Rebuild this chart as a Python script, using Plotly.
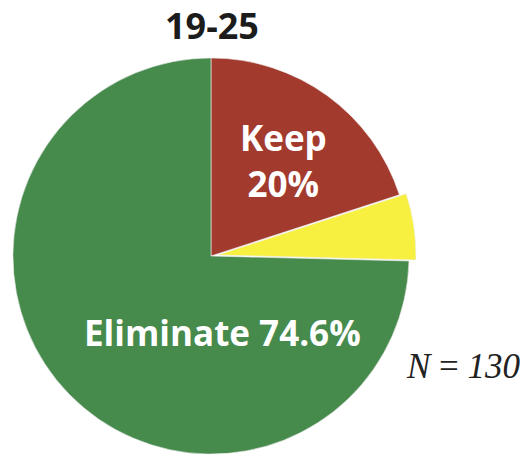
import plotly.graph_objects as go

# share of respondents aged 19-25
labels = ["Keep", "Undecided", "Eliminate"]
values = [20.0, 5.4, 74.6]
colors = ["#a33a2e", "#f8f040", "#468a4c"]
pulls = [0, 0.035, 0]
group_title = "19-25"
sample_size = 130

W, H = 522, 461
cx, cy, half = 211, 256, 205  # pie centre and half-size of its domain, px

fig = go.Figure()
fig.add_trace(
    go.Pie(
        labels=labels,
        values=values,
        sort=False,
        direction="clockwise",
        rotation=0,
        pull=pulls,
        marker=dict(colors=colors, line=dict(color="#eeeeee", width=0.6)),
        textinfo="none",
        hoverinfo="skip",
        domain=dict(
            x=[(cx - half) / W, (cx + half) / W],
            y=[(H - cy - half) / H, (H - cy + half) / H],
        ),
    )
)


def put_text(x, y, text, font, align="center"):
    # x, y given in pixels from the top-left corner
    fig.add_annotation(
        x=x / W, y=1 - y / H, xref="paper", yref="paper",
        xanchor="center", yanchor="middle",
        text=text, showarrow=False, font=font, align=align,
    )


label_font = dict(family="Open Sans, sans-serif", size=35, color="white", weight="bold")

put_text(283, 160, f"{labels[0]}<br>{values[0]:g}%", label_font)
put_text(222, 332, f"{labels[2]} {values[2]:g}%", label_font)
put_text(212, 25, group_title,
         dict(family="Open Sans, sans-serif", size=36, color="#1c1c1c", weight="bold"))
put_text(463, 366, f"<i>N</i> = <i>{sample_size}</i>",
         dict(family="Liberation Serif, serif", size=35, color="#222222"))

fig.update_layout(
    width=W,
    height=H,
    margin=dict(l=0, r=0, t=0, b=0),
    showlegend=False,
    paper_bgcolor="white",
    plot_bgcolor="white",
)

fig.write_html(
    "out.html",
    config={"displayModeBar": False},
    post_script="document.body.style.margin = '0';",
)
